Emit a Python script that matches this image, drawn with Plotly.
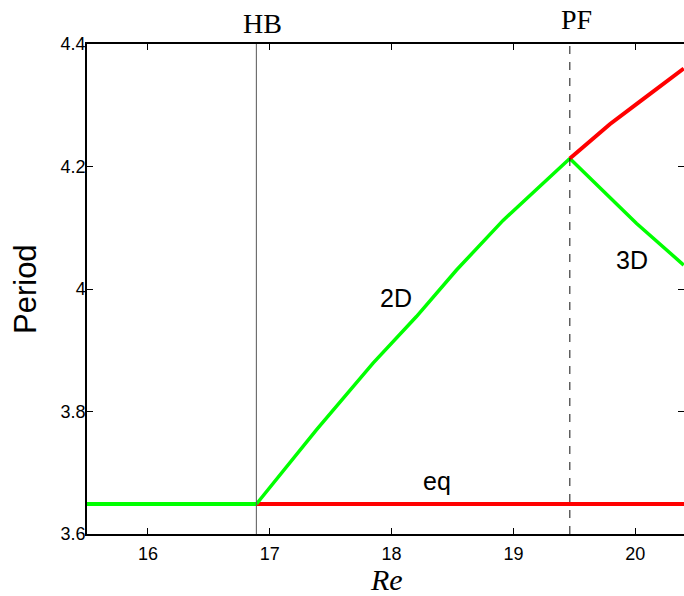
import plotly.graph_objects as go

# Data
re_hb = 16.89
re_pf = 19.463
eq_period = 3.649

eq_stable_re = [15.5, re_hb]
eq_unstable_re = [re_hb, 20.4]

twoD_re = [16.891, 17.383, 17.848, 18.204, 18.533, 18.915, 19.463]
twoD_period = [3.649, 3.770, 3.879, 3.955, 4.031, 4.112, 4.213]

twoD_unstable_re = [19.463, 19.791, 20.037, 20.398]
twoD_unstable_period = [4.213, 4.269, 4.306, 4.360]

threeD_re = [19.463, 20.011, 20.398]
threeD_period = [4.213, 4.107, 4.039]

x_ticks = [16, 17, 18, 19, 20]
y_ticks = [3.6, 3.8, 4.0, 4.2, 4.4]
y_tick_text = ["3.6", "3.8", "4", "4.2", "4.4"]

GREEN = "#00ff00"
RED = "#ff0000"

fig = go.Figure()

fig.add_trace(go.Scatter(x=eq_unstable_re, y=[eq_period, eq_period], mode="lines",
                         line=dict(color=RED, width=4), showlegend=False))
fig.add_trace(go.Scatter(x=eq_stable_re, y=[eq_period, eq_period], mode="lines",
                         line=dict(color=GREEN, width=4), showlegend=False))
fig.add_trace(go.Scatter(x=twoD_re, y=twoD_period, mode="lines",
                         line=dict(color=GREEN, width=3.5), showlegend=False))
fig.add_trace(go.Scatter(x=threeD_re, y=threeD_period, mode="lines",
                         line=dict(color=GREEN, width=3.5), showlegend=False))
fig.add_trace(go.Scatter(x=twoD_unstable_re, y=twoD_unstable_period, mode="lines",
                         line=dict(color=RED, width=4), showlegend=False))

# right-side ticks (no line)
fig.add_trace(go.Scatter(x=[None], y=[None], yaxis="y2", showlegend=False))

# HB and PF vertical lines
fig.add_shape(type="line", xref="x", yref="paper", x0=re_hb, x1=re_hb, y0=0, y1=1,
              line=dict(color="#555555", width=1))
fig.add_shape(type="line", xref="x", yref="paper", x0=re_pf, x1=re_pf, y0=0, y1=1,
              line=dict(color="#111111", width=1, dash="8px,8px"))

sans = "Liberation Sans, Arial, sans-serif"
serif = "Liberation Serif, Times New Roman, serif"

fig.add_annotation(x=re_hb, y=1, xref="x", yref="paper", text="HB", showarrow=False,
                   yanchor="middle", yshift=21, xshift=6,
                   font=dict(family=serif, size=28, color="black"))
fig.add_annotation(x=re_pf, y=1, xref="x", yref="paper", text="PF", showarrow=False,
                   yanchor="middle", yshift=25, xshift=7,
                   font=dict(family=serif, size=28, color="black"))

fig.add_annotation(x=18.04, y=3.985, text="2D", showarrow=False,
                   font=dict(family=sans, size=25, color="black"))
fig.add_annotation(x=18.37, y=3.686, text="eq", showarrow=False,
                   font=dict(family=sans, size=25, color="black"))
fig.add_annotation(x=19.97, y=4.047, text="3D", showarrow=False,
                   font=dict(family=sans, size=25, color="black"))

# axis titles
fig.add_annotation(x=17.96, y=0, xref="x", yref="paper", text="<i>Re</i>", showarrow=False,
                   yanchor="middle", yshift=-45, font=dict(family=serif, size=30, color="black"))
fig.add_annotation(x=0, y=4.0, xref="paper", yref="y", text="Period", showarrow=False,
                   textangle=-90, xanchor="center", xshift=-62,
                   font=dict(family=sans, size=31, color="black"))

fig.update_layout(
    width=684, height=596,
    margin=dict(l=87, r=0, t=44, b=62),
    plot_bgcolor="white", paper_bgcolor="white",
    xaxis=dict(range=[15.5, 20.4], tickvals=x_ticks, ticks="inside", ticklen=6,
               tickcolor="black", showline=True, linecolor="black", linewidth=1.5,
               mirror="ticks", showgrid=False, zeroline=False, ticklabelstandoff=3,
               tickfont=dict(family=sans, size=18, color="black")),
    yaxis=dict(range=[3.6, 4.4], tickvals=y_ticks, ticktext=y_tick_text,
               ticks="inside", ticklen=6, tickcolor="black", showline=True, linecolor="black",
               linewidth=1.5, mirror=False, showgrid=False, zeroline=False,
               ticklabelstandoff=-4,
               tickfont=dict(family=sans, size=18, color="black")),
    yaxis2=dict(range=[3.6, 4.4], tickvals=y_ticks, overlaying="y", side="right",
                ticks="inside", ticklen=6, tickcolor="black", showline=False,
                showticklabels=False, showgrid=False, zeroline=False),
)

fig.write_html("out.html", config={"displayModeBar": False},
               post_script="document.body.style.margin='0px';")
